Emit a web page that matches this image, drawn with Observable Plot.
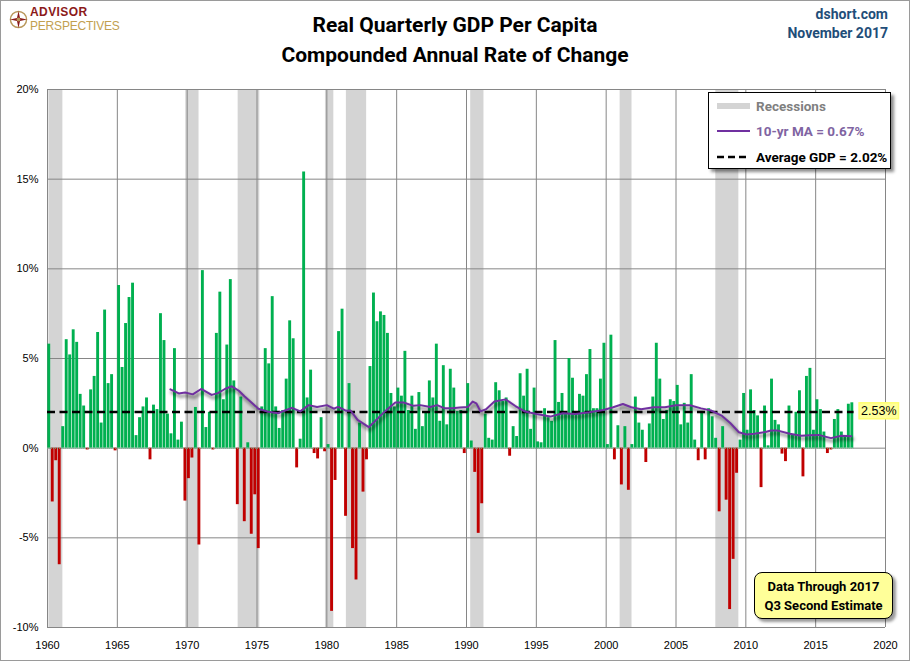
<!DOCTYPE html>
<html><head><meta charset="utf-8">
<script src="https://cdn.jsdelivr.net/npm/d3@7"></script>
<script src="https://cdn.jsdelivr.net/npm/@observablehq/plot@0.6"></script>
<style>
body{margin:0;background:#fff;}
#wrap{position:relative;width:910px;height:661px;overflow:hidden;background:#fff;font-family:"Liberation Sans Narrow","Roboto",sans-serif;}
#wrap > svg{position:absolute;left:0;top:0;}
.abs{position:absolute;}
#title{left:0;width:910px;text-align:center;top:10px;font-weight:bold;font-size:21px;line-height:30px;color:#000;}
#brand{right:22px;top:5px;text-align:right;font-weight:bold;font-size:14px;line-height:19px;color:#1F4E79;}
#logo{left:9px;top:5px;display:flex;align-items:center;}
#legend{left:708px;top:92px;width:181px;height:75px;border:1px solid #000;background:#fff;box-shadow:3px 3px 3px rgba(0,0,0,0.45);font-weight:bold;font-size:13.5px;}
#legend .row{position:absolute;left:8px;height:20px;display:flex;align-items:center;}
#legend .row svg{display:block;}
#note{left:754px;top:572px;width:139px;height:47px;border:1px solid #000;border-radius:8px;background:#FFFF99;box-shadow:3px 3px 3px rgba(0,0,0,0.4);text-align:center;font-weight:bold;font-size:13px;line-height:19px;padding-top:4px;box-sizing:border-box;}
#frame{left:0;top:0;width:908px;height:659px;border:1px solid #9a9a9a;pointer-events:none;}
</style></head><body><div id="wrap"></div>
<script>
// ---- data ----
const startYear = 1960; // first quarter = 1960 Q1
const gdp1960s = [5.8,-3.0,-0.7,-6.5, 1.2,6.05,5.2,6.6, 5.9,3.0,2.35,-0.1, 3.25,4.0,6.45,1.4, 7.7,3.6,4.1,-0.15,
  9.07,4.5,6.95,8.4, 9.2,0.7,1.7,2.3, 2.8,-0.65,2.4,2.15, 7.5,6.0,1.9,0.8, 5.55,0.45,1.45,-2.95];
const gdp1970s = [-1.7,-0.55,2.27,-5.4, 9.9,1.15,2.0,-0.1, 6.4,8.7,2.7,5.75, 9.4,3.75,-3.15,2.85, -4.1,0.3,-4.8,-2.6,
  -5.6,2.3,5.55,4.7, 8.45,2.3,1.1,2.1, 3.85,7.1,6.1,-1.1, 0.5,15.4,2.8,4.35, -0.3,-0.6,1.7,-0.2];
const gdp1980s = [0.2,-9.1,-1.8,6.5, 7.75,-3.8,3.6,-5.6, -7.35,1.4,-2.45,-0.65, 4.55,8.65,7.05,7.6, 7.4,6.4,3.05,2.3,
  3.35,2.9,5.4,2.1, 2.9,1.05,3.1,1.2, 2.0,3.75,2.8,5.8, 1.5,4.6,1.3,4.4, 3.35,2.05,2.1,-0.3];
const gdp1990s = [3.6,0.4,-1.35,-4.75, -3.1,1.9,0.55,0.45, 3.65,3.2,2.6,2.8, -0.45,1.2,0.65,4.15, 2.9,4.4,1.05,3.35,
  0.35,0.3,2.2,1.7, 1.5,6.0,2.55,3.05, 1.9,5.0,3.9,1.95, 3.0,2.9,4.1,5.5, 2.2,2.2,3.85,5.85];
const gdp2000s = [0.2,6.3,-0.65,1.25, -2.05,1.2,-2.35,0.2, 2.85,1.4,1.0,-0.8, 1.35,2.85,5.85,3.85, 1.6,2.1,2.7,2.6,
  3.5,1.3,2.5,1.4, 4.1,0.45,-0.7,2.05, -0.65,2.2,1.75,0.55, -3.55,1.2,-2.9,-9.0, -6.2,-1.4,0.45,3.05];
const gdp2010s = [1.0,3.25,2.1,1.8, -2.2,2.35,0.13,3.85, 1.55,1.3,-0.33,-0.75, 2.35,0.74,2.0,3.2, -1.6,4.0,4.45,1.0,
  2.7,2.15,0.9,-0.3, -0.1,1.6,2.15,0.9, 0.6,2.45,2.53];

const recessionStart = [1960.1, 1969.9, 1973.65, 1979.9, 1981.4, 1990.3, 2001.0, 2007.85];
const recessionEnd   = [1961.1, 1970.85, 1975.2, 1980.5, 1982.85, 1991.25, 2001.85, 2009.5];

const maYears  = [1968.8,1969.4,1969.85,1970.4,1971.0,1971.75,1972.2,1972.7,1973.2,1973.7,1974.1,1974.6,1975.1,1975.7,
  1976.5,1977.0,1977.5,1978.1,1978.7,1979.3,1980.0,1980.5,1980.8,1981.4,1981.7,1982.2,1983.0,1983.55,1984.15,1984.9,
  1985.5,1986.2,1986.7,1987.4,1987.9,1988.4,1989.0,1989.5,1990.1,1990.45,1990.7,1991.0,1991.4,1992.0,1992.8,1993.5,
  1994.2,1995.0,1996.0,1996.9,1997.8,1998.8,1999.8,2000.5,2001.2,2001.8,2002.5,2003.4,2004.2,2005.0,2006.0,2006.8,
  2007.5,2008.3,2008.9,2009.5,2010.05,2010.6,2011.4,2011.8,2012.3,2013.15,2013.95,2014.6,2015.2,2016.1,2016.85,2017.55];
const maValues = [3.28,3.05,3.1,3.0,3.3,2.97,3.07,3.3,3.45,3.2,2.9,2.55,2.2,2.05,
  1.95,2.1,2.25,2.05,2.4,2.3,2.4,2.2,2.3,2.08,2.1,1.58,1.17,1.58,2.05,2.55,
  2.55,2.36,2.4,2.3,2.4,2.23,2.23,2.27,2.3,2.6,2.5,2.05,2.17,2.6,2.72,2.35,
  2.04,1.9,1.76,1.95,1.9,2.0,2.13,2.28,2.46,2.28,2.17,2.28,2.28,2.39,2.39,2.22,
  2.1,1.8,1.39,0.89,0.76,0.8,0.9,0.98,0.98,0.8,0.69,0.72,0.74,0.56,0.69,0.67];

const avgGDP = 2.02;
const maLatest = 0.67;
const xTicks = [1960,1965,1970,1975,1980,1985,1990,1995,2000,2005,2010,2015,2020];
const yTicks = [-10,-5,0,5,10,15,20];

// ---- tables built from the arrays ----
const values = [...gdp1960s, ...gdp1970s, ...gdp1980s, ...gdp1990s, ...gdp2000s, ...gdp2010s];
const data = values.map((v, i) => ({t: startYear + i / 4, v}));
const last = data[data.length - 1];
const recessions = recessionStart.map((s, i) => ({s, e: recessionEnd[i]}));
const ma = maYears.map((t, i) => ({t, v: maValues[i]}));

const GREEN = "#00B050", RED = "#C00000", PURPLE = "#7030A0";

const chart = Plot.plot({
  width: 910, height: 661,
  marginTop: 89, marginBottom: 34, marginLeft: 47, marginRight: 25,
  style: {fontFamily: '"Liberation Sans", Arial, sans-serif', fontSize: "11px", color: "#000", background: "transparent", overflow: "visible"},
  x: {domain: [1960, 2020], ticks: xTicks, tickFormat: d => String(d), tickSize: 0, tickPadding: 14, label: null},
  y: {domain: [-10, 20], ticks: yTicks, tickFormat: d => d + "%", tickSize: 0, tickPadding: 9, label: null},
  marks: [
    Plot.rect(recessions, {x1: "s", x2: "e", fill: "#D4D4D4"}),
    Plot.gridX(xTicks, {stroke: "#868686", strokeOpacity: 1, strokeWidth: 1}),
    Plot.gridY(yTicks, {stroke: "#868686", strokeOpacity: 1, strokeWidth: 1}),
    Plot.rectY(data, {x1: "t", x2: d => d.t + 0.25, y: "v", fill: d => d.v >= 0 ? GREEN : RED, insetLeft: 0.3, insetRight: 0.3}),
    Plot.ruleY([0], {x1: data[0].t, x2: last.t + 0.25, stroke: "#6fbf8f", strokeDasharray: "1,1"}),
    Plot.ruleY([avgGDP], {x1: data[0].t, x2: last.t + 0.25, stroke: "#000", strokeWidth: 2.5, strokeDasharray: "8,4.5"}),
    Plot.line(ma, {x: "t", y: "v", stroke: "#000", strokeOpacity: 0.35, strokeWidth: 3.5, dx: 1.5, dy: 3}),
    Plot.line(ma, {x: "t", y: "v", stroke: PURPLE, strokeWidth: 2}),
    Plot.text([last], {x: d => d.t + 0.25, y: "v", text: d => d.v.toFixed(2) + "%", textAnchor: "start", dx: 7, dy: 8, fontSize: 12.5, fill: "#000"})
  ]
});

const wrap = document.getElementById("wrap");
wrap.appendChild(chart);

// blur for the moving-average shadow (first line mark)
const svg = d3.select(chart);
const defs = svg.insert("defs", ":first-child");
defs.append("filter").attr("id", "blur").attr("x", "-5%").attr("y", "-50%").attr("width", "110%").attr("height", "200%")
  .append("feGaussianBlur").attr("stdDeviation", 1.4);
const lineGroups = svg.selectAll('g[aria-label="line"]').nodes();
if (lineGroups.length) d3.select(lineGroups[0]).attr("filter", "url(#blur)");

// yellow background behind the last-value label
svg.selectAll('g[aria-label="text"] text').each(function() {
  const b = this.getBBox();
  const tr = this.getAttribute("transform");
  const r = d3.select(this.parentNode).insert("rect", "text")
    .attr("x", b.x - 2).attr("y", b.y - 1).attr("width", b.width + 4).attr("height", b.height + 2)
    .attr("fill", "#FFFF99").attr("stroke", "#ffff70").attr("stroke-width", 1.5);
  if (tr) r.attr("transform", tr);
});

// ---- header, legend, note (HTML overlays) ----
function add(html) { wrap.insertAdjacentHTML("beforeend", html); }
add(`<div id="title" class="abs">Real Quarterly GDP Per Capita<br>Compounded Annual Rate of Change</div>`);
add(`<div id="brand" class="abs">dshort.com<br>November 2017</div>`);
add(`<div id="logo" class="abs">
  <svg width="19" height="19" viewBox="0 0 20 20" style="display:block;margin-right:2px">
    <circle cx="10" cy="10" r="8.5" fill="none" stroke="#B8975A" stroke-width="1.5"/>
    <path d="M10 1 L11.6 8.4 L19 10 L11.6 11.6 L10 19 L8.4 11.6 L1 10 L8.4 8.4 Z" fill="#8B1A1A"/>
    <circle cx="10" cy="10" r="2" fill="#B8975A"/>
  </svg>
  <div style="line-height:14px;">
    <div style="color:#8B1A1A;font-weight:bold;font-size:12px;font-family:'Liberation Sans',Arial,sans-serif;letter-spacing:0.4px">ADVISOR</div>
    <div style="color:#C2A050;font-size:12px;font-family:'Liberation Sans','Roboto',sans-serif;letter-spacing:-0.2px">PERSPECTIVES</div>
  </div></div>`);
add(`<div id="legend" class="abs">
  <div class="row" style="top:3px"><svg width="36" height="10"><rect x="0" y="2" width="33" height="6" fill="#D4D4D4"/></svg><span style="color:#7F7F7F;margin-left:3px">Recessions</span></div>
  <div class="row" style="top:28px"><svg width="36" height="10"><line x1="0" y1="5" x2="33" y2="5" stroke="${PURPLE}" stroke-width="2"/></svg><span style="color:#8064A2;margin-left:3px">10-yr MA = ${maLatest.toFixed(2)}%</span></div>
  <div class="row" style="top:54px"><svg width="36" height="10"><line x1="0" y1="5" x2="33" y2="5" stroke="#000" stroke-width="2.5" stroke-dasharray="7,4"/></svg><span style="color:#000;margin-left:3px">Average GDP = ${avgGDP.toFixed(2)}%</span></div>
</div>`);
add(`<div id="note" class="abs">Data Through ${Math.floor(last.t)}<br>Q${Math.round((last.t % 1) * 4) + 1} Second Estimate</div>`);
add(`<div id="frame" class="abs"></div>`);
</script></body></html>
